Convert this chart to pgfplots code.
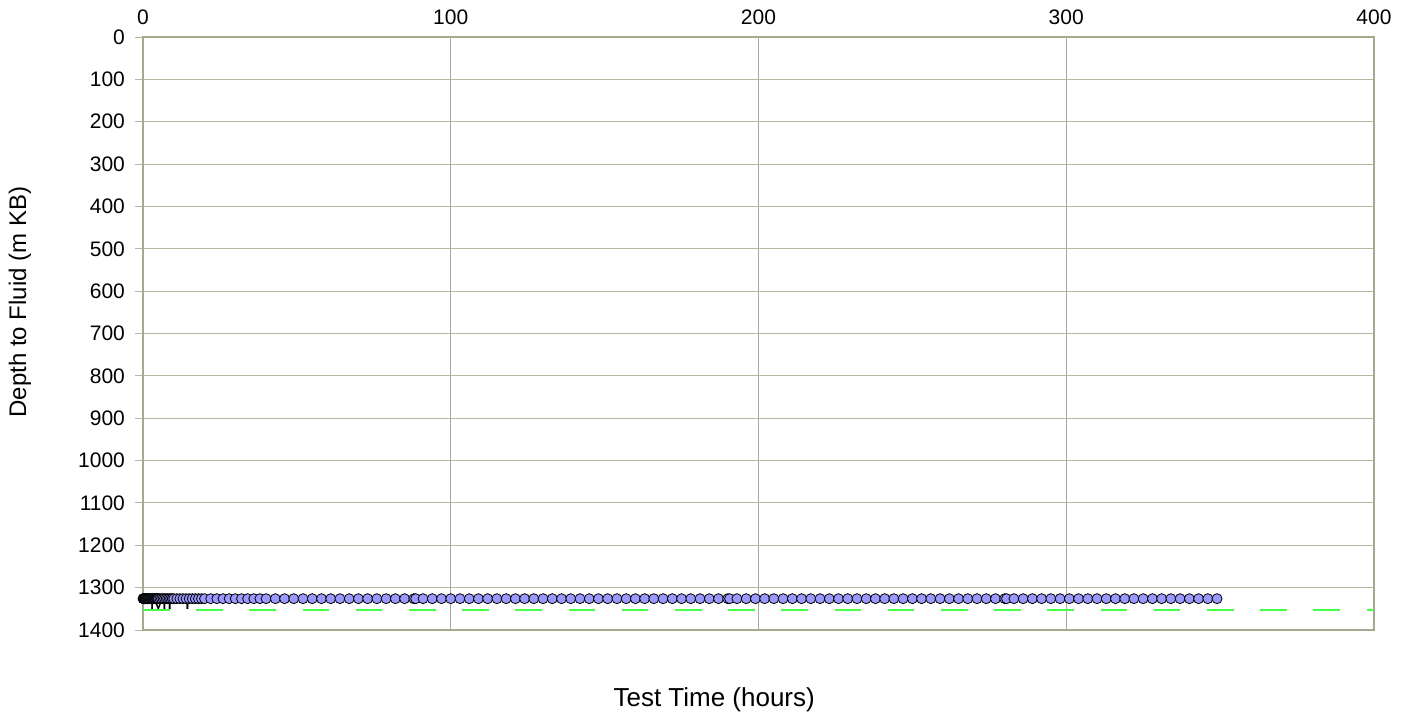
\documentclass[border=0pt]{standalone}
\usepackage{fontspec}
\setmainfont{Liberation Sans}
\usepackage{pgfplots}
\pgfplotsset{compat=1.18}
\definecolor{gridolive}{HTML}{B8B8A0}
\definecolor{framecol}{HTML}{A8A890}
\definecolor{vgrid}{HTML}{A8A8A8}
\definecolor{ptfill}{HTML}{9999FF}
\definecolor{mptgreen}{HTML}{44FF44}
\begin{document}
\begin{tikzpicture}
\useasboundingbox (-71.5pt,-45pt) rectangle (634pt,315pt);
\begin{axis}[
  at={(0,0)}, anchor=south west,
  scale only axis, width=615.5pt, height=296.5pt,
  xmin=0, xmax=400, ymin=0, ymax=1400,
  y dir=reverse,
  axis x line*=top,
  ytick pos=left,
  xtick={0,100,...,400}, ytick={0,100,...,1400},
  xmajorgrids, ymajorgrids,
  x grid style={vgrid, line width=0.5pt},
  y grid style={gridolive, line width=0.5pt},
  axis line style={framecol, line width=0.6pt},
  x tick style={draw=none},
  y tick style={gridolive, line width=0.5pt},
  tick align=outside,
  major tick length=4pt,
  tick label style={font=\fontsize{10.5}{12}\selectfont, text=black},
  /pgf/number format/assume math mode=true,
  /pgf/number format/1000 sep={},
  yticklabel style={xshift=-1.5pt},
  xticklabel style={yshift=-1.5pt},
  clip=false,
]
% frame (all four sides)
\draw[framecol, line width=0.6pt] (rel axis cs:0,0) rectangle (rel axis cs:1,1);
% MPT line
\addplot[mptgreen, line width=0.8pt, dash pattern=on 13.3pt off 13.3pt, no marks] coordinates {(0,1353) (400,1353)};
\node[anchor=south west, inner sep=0pt, font=\fontsize{10.5}{12}\selectfont] at (axis cs:2,1352) {MPT};
% data
\addplot[only marks, mark=*, mark size=2.5pt, mark options={fill=ptfill, draw=black, line width=0.4pt}] coordinates {
(0,1326) (0.1,1326) (0.2,1326) (0.3,1326) (0.4,1326) (0.5,1326) (0.6,1326) (0.7,1326) (0.8,1326) (0.9,1326) (1,1326)
(1.25,1326) (1.5,1326) (1.75,1326) (2,1326) (2.25,1326) (2.5,1326) (2.75,1326) (3,1326) (3.25,1326) (3.5,1326) (3.75,1326) (4,1326) (4.25,1326) (4.5,1326) (4.75,1326) (5,1326)
(5.5,1326) (6,1326) (6.5,1326) (7,1326) (7.5,1326) (8,1326) (8.5,1326) (9,1326) (9.5,1326) (10,1326)
(11,1326) (12,1326) (13,1326) (14,1326) (15,1326) (16,1326) (17,1326) (18,1326) (19,1326) (20,1326)
(22,1326) (24,1326) (26,1326) (28,1326) (30,1326) (32,1326) (34,1326) (36,1326) (38,1326)
(40,1326) (43,1326) (46,1326) (49,1326) (52,1326) (55,1326) (58,1326) (61,1326) (64,1326) (67,1326)
(70,1326) (73,1326) (76,1326) (79,1326) (82,1326) (85,1326) (88,1326) (88.6,1326) (91,1326) (94,1326) (97,1326)
(100,1326) (103,1326) (106,1326) (109,1326) (112,1326) (115,1326) (118,1326) (121,1326) (124,1326) (127,1326)
(130,1326) (133,1326) (136,1326) (139,1326) (142,1326) (145,1326) (148,1326) (151,1326) (154,1326) (157,1326)
(160,1326) (163,1326) (166,1326) (169,1326) (172,1326) (175,1326) (178,1326) (181,1326) (184,1326) (187,1326)
(190,1326) (190.6,1326) (193,1326) (196,1326) (199,1326) (202,1326) (205,1326) (208,1326) (211,1326) (214,1326) (217,1326)
(220,1326) (223,1326) (226,1326) (229,1326) (232,1326) (235,1326) (238,1326) (241,1326) (244,1326) (247,1326)
(250,1326) (253,1326) (256,1326) (259,1326) (262,1326) (265,1326) (268,1326) (271,1326) (274,1326) (277,1326)
(280,1326) (280.6,1326) (283,1326) (286,1326) (289,1326) (292,1326) (295,1326) (298,1326) (301,1326) (304,1326) (307,1326)
(310,1326) (313,1326) (316,1326) (319,1326) (322,1326) (325,1326) (328,1326) (331,1326) (334,1326) (337,1326)
(340,1326) (343,1326) (346,1326) (349,1326)
};
\node[font=\fontsize{13}{15}\selectfont] at ([yshift=-35pt]rel axis cs:0.464,0) {Test Time (hours)};
\node[font=\fontsize{12}{14}\selectfont, rotate=90] at ([xshift=-61.5pt]rel axis cs:0,0.553) {Depth to Fluid (m KB)};
\end{axis}
\end{tikzpicture}
\end{document}
